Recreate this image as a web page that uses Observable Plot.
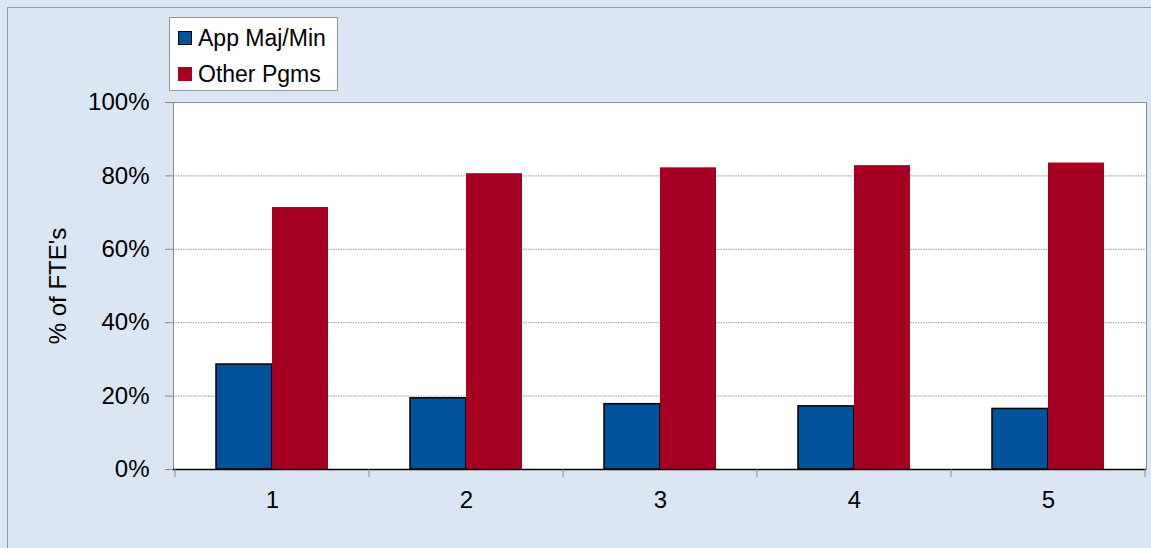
<!DOCTYPE html>
<html><head><meta charset="utf-8">
<script src="https://cdn.jsdelivr.net/npm/d3@7"></script>
<script src="https://cdn.jsdelivr.net/npm/@observablehq/plot@0.6"></script>
<style>
html,body{margin:0;padding:0;}
body{width:1151px;height:548px;background:#dae6f3;position:relative;overflow:hidden;font-family:"Liberation Sans",Arial,sans-serif;}
#border{position:absolute;left:7px;top:7px;right:-5px;bottom:-5px;border-left:1px solid #8d9aa8;border-top:1px solid #8d9aa8;}
#chart{position:absolute;left:0;top:0;}
#legend{position:absolute;left:169px;top:17px;width:169px;height:74px;background:#fff;border:1px solid #999;box-sizing:border-box;}
.item{position:absolute;left:8px;height:24px;display:flex;align-items:center;font-size:23px;color:#000;white-space:nowrap;}
.sw{width:14px;height:14px;margin-right:6px;box-sizing:border-box;}
</style></head><body>
<div id="border"></div>
<div id="chart"></div>
<div id="legend"></div>
<script>
const categories = ["1","2","3","4","5"];
const seriesNames = ["App Maj/Min","Other Pgms"];
const appMajMin = [0.286,0.194,0.178,0.172,0.165];
const otherPgms = [0.714,0.806,0.822,0.828,0.835];
const yTicks = [0,0.2,0.4,0.6,0.8,1];
const colors = ["#00529b","#a50021"];

const rows = categories.flatMap((c,i)=>[
  {cat:c, series:seriesNames[0], value:appMajMin[i]},
  {cat:c, series:seriesNames[1], value:otherPgms[i]}
]);

const plot = Plot.plot({
  width:1151, height:548,
  marginTop:102, marginLeft:173, marginRight:5, marginBottom:79,
  style:{background:"transparent", fontFamily:"'Liberation Sans', Arial, sans-serif", color:"#000"},
  x:{domain:categories, paddingInner:0.4245, paddingOuter:0.21225},
  y:{domain:[0,1]},
  color:{domain:seriesNames, range:colors},
  marks:[
    Plot.frame({fill:"white"}),
    Plot.gridY(yTicks,{stroke:"#9a9a9a", strokeOpacity:1, strokeDasharray:"1.5,1"}),
    Plot.barY(rows.filter(d=>d.series===seriesNames[0]), {x:"cat", y:"value", fill:"series", stroke:"#000", strokeWidth:1.5, insetRight:56}),
    Plot.barY(rows.filter(d=>d.series===seriesNames[1]), {x:"cat", y:"value", fill:"series", insetLeft:56}),
    Plot.frame({stroke:"#8a8a8a"}),
    Plot.ruleY([0],{stroke:"#000", strokeWidth:1.5}),
    Plot.axisY(yTicks,{tickFormat:d3.format(".0%"), tickSize:8, tickPadding:16, fontSize:24, stroke:"#888", label:"% of FTE's", labelAnchor:"center", labelArrow:"none", labelOffset:125}),
    Plot.axisX({tickSize:0, tickPadding:21, fontSize:24, label:null})
  ]
});
const svg = plot.tagName.toLowerCase()==="svg" ? plot : plot.querySelector("svg");
document.getElementById("chart").appendChild(plot);

// group boundary ticks from the x band scale
const xs = plot.scale("x");
const gap = (xs.step - xs.bandwidth)/2;
const edges = categories.map(c => xs.apply(c) - gap).concat([xs.apply(categories[categories.length-1]) + xs.bandwidth + gap]);
const y0 = plot.scale("y").apply(0);
d3.select(svg).append("g").selectAll("line").data(edges).join("line")
  .attr("x1",d=>d).attr("x2",d=>d).attr("y1",y0).attr("y2",y0+8)
  .attr("stroke","#888");

// legend
const legend = d3.select("#legend");
seriesNames.forEach((s,i)=>{
  const it = legend.append("div").attr("class","item").style("top",(i===0?8:44)+"px");
  it.append("div").attr("class","sw").style("background",colors[i]).style("border",i===0?"1.5px solid #000":"none");
  it.append("span").text(s);
});
</script>
</body></html>
